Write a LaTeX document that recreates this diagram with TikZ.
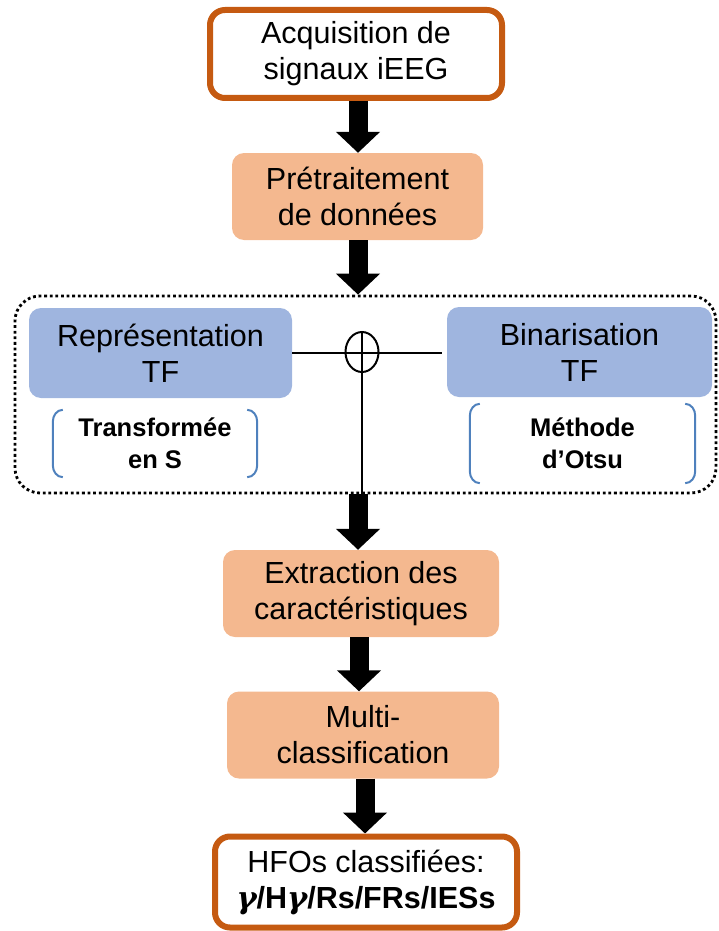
\documentclass[tikz,border=0pt]{standalone}
\usepackage{fontspec}
\setmainfont{Liberation Sans}
\newfontfamily\gfont{DejaVu Serif}
\usetikzlibrary{arrows.meta,shapes.geometric}
\definecolor{borange}{HTML}{C55A11}
\definecolor{peach}{HTML}{F4B88F}
\definecolor{lblue}{HTML}{9FB5DF}
\definecolor{brkblue}{HTML}{4F81BD}
\newcommand{\bgam}{{\gfont\bfseries\itshape γ}}
\tikzset{
  txt/.style={font=\fontsize{30.5}{36}\selectfont, align=center, text=black, inner sep=0pt},
  keybox/.style={txt, draw=borange, line width=6pt, fill=white, rounded corners=15pt},
  peachbox/.style={txt, fill=peach, rounded corners=12pt},
  bluebox/.style={txt, fill=lblue, rounded corners=12pt},
  smalltxt/.style={font=\fontsize{25.5}{32}\selectfont\bfseries, align=center, text=black, inner sep=0pt},
  brk/.style={draw=brkblue, line width=2pt},
  bigarrow/.style={line width=19pt, -{Triangle[width=43pt,length=21pt]}},
  thin/.style={line width=2pt},
  dotbox/.style={draw=black, line width=2.8pt, dash pattern=on 2.8pt off 2.8pt, rounded corners=25pt, inner sep=0pt}
}
\begin{document}
\begin{tikzpicture}[x=1pt,y=-1pt]
\useasboundingbox (0,0) rectangle (718,931);
% boxes
\node[keybox, minimum width=292pt, minimum height=88pt] (top) at (356,54) {Acquisition de\\signaux iEEG};
\node[peachbox, minimum width=251pt, minimum height=87pt] (pre) at (357.5,196.5) {Prétraitement\\de données};
\node[dotbox, minimum width=701pt, minimum height=197pt] (grp) at (365.5,394.5) {};
\node[bluebox, minimum width=263pt, minimum height=90pt] (rep) at (160.5,353) {Représentation\\TF};
\node[bluebox, minimum width=265pt, minimum height=90pt] (bin) at (579.5,352) {Binarisation\\TF};
\node[draw=black, thin, ellipse, minimum width=33pt, minimum height=40pt, inner sep=0pt] (plus) at (362,352) {};
\node[smalltxt, minimum width=204pt, minimum height=67pt] (ts) at (155,443.5) {Transformée\\en S};
\node[smalltxt, minimum width=225pt, minimum height=79pt] (om) at (582.5,443.5) {Méthode\\d’Otsu};
\node[peachbox, minimum width=276pt, minimum height=87pt] (ext) at (361,593.5) {Extraction des\\caractéristiques};
\node[peachbox, minimum width=272pt, minimum height=87pt] (mul) at (363,735) {Multi-\\classification};
\node[keybox, minimum width=302pt, minimum height=91pt] (fin) at (366,882) {HFOs classifiées:\\{\bfseries\bgam/H\bgam/Rs/FRs/IESs}};
% brackets
\draw[brk] ([xshift=10pt]ts.north west) to[out=180,in=90] ([yshift=-12pt]ts.north west) -- ([yshift=12pt]ts.south west) to[out=-90,in=180] ([xshift=10pt]ts.south west);
\draw[brk] ([xshift=-10pt]ts.north east) to[out=0,in=90] ([yshift=-12pt]ts.north east) -- ([yshift=12pt]ts.south east) to[out=-90,in=0] ([xshift=-10pt]ts.south east);
\draw[brk] ([xshift=10pt]om.north west) to[out=180,in=90] ([yshift=-12pt]om.north west) -- ([yshift=12pt]om.south west) to[out=-90,in=180] ([xshift=10pt]om.south west);
\draw[brk] ([xshift=-10pt]om.north east) to[out=0,in=90] ([yshift=-12pt]om.north east) -- ([yshift=12pt]om.south east) to[out=-90,in=0] ([xshift=-10pt]om.south east);
% sum junction
\draw[thin, shorten >=5pt] (rep.east) -- (rep.east -| bin.west);
\draw[thin] (plus.north) -- (plus.north |- grp.south);
% arrows
\coordinate (ax) at (358,0);
\coordinate (bx) at (359,0);
\coordinate (cx) at (365,0);
\draw[bigarrow] (top.south -| ax) -- (pre.north -| ax);
\draw[bigarrow] (pre.south -| ax) -- (grp.north -| ax);
\draw[bigarrow] (grp.south -| ax) -- (ext.north -| ax);
\draw[bigarrow] (ext.south -| bx) -- (mul.north -| bx);
\draw[bigarrow] (mul.south -| cx) -- (fin.north -| cx);
\end{tikzpicture}
\end{document}
